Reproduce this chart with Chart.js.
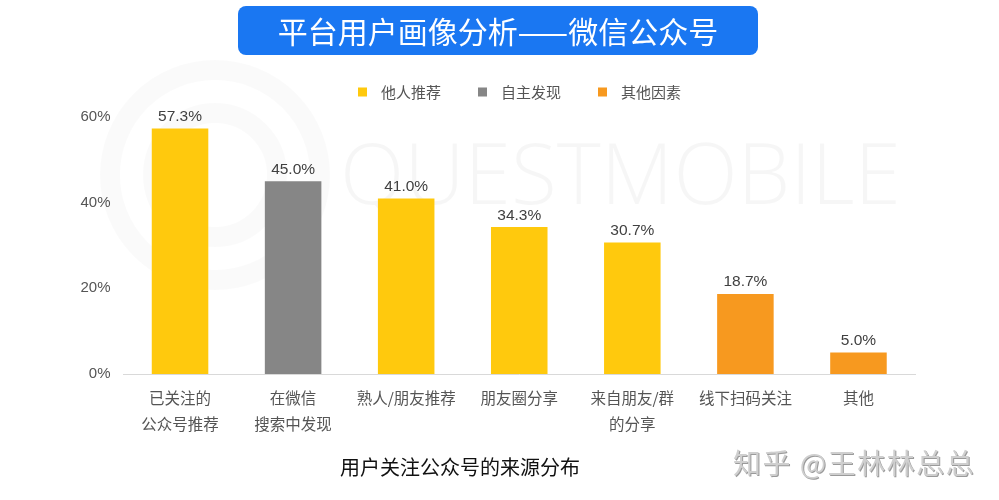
<!DOCTYPE html>
<html>
<head>
<meta charset="utf-8">
<script src="https://cdn.jsdelivr.net/npm/chart.js@4"></script>
<style>
  body { margin: 0; background: #fff; font-family: "Noto Sans CJK SC", "Noto Sans", sans-serif; }
  #wrap { position: relative; width: 999px; height: 500px; overflow: hidden; }
  #chart { position: absolute; left: 0; top: 0; }
  #title { position: absolute; left: 238px; top: 6px; width: 520px; height: 49px; border-radius: 8px;
    background: #1a77f2; color: #fff; font-size: 30px; line-height: 49px; text-align: center; }
  #caption { position: absolute; left: 0; width: 920px; top: 452px; text-align: center; font-size: 20px; color: #111; }
  #mark { position: absolute; left: 733px; top: 442px; font-size: 28px; color: #cfcfcf; text-shadow: 1px 1px 0 #9a9a9a; letter-spacing: 1.5px; }
</style>
</head>
<body>
<div id="wrap">
  <canvas id="chart" width="999" height="500"></canvas>
  <div id="title">平台用户画像分析——微信公众号</div>
  <div id="caption">用户关注公众号的来源分布</div>
  <div id="mark">知乎 @王林林总总</div>
</div>
<script>
// categories and values
var categories = [["已关注的", "公众号推荐"], ["在微信", "搜索中发现"], "熟人/朋友推荐", "朋友圈分享", ["来自朋友/群", "的分享"], "线下扫码关注", "其他"];
var values = [57.3, 45.0, 41.0, 34.3, 30.7, 18.7, 5.0];
var groups = [0, 1, 0, 0, 0, 2, 2];
var groupNames = ["他人推荐", "自主发现", "其他因素"];
var groupColors = ["#ffc90d", "#868686", "#f7991f"];
var yTicks = [0, 20, 40, 60];

// faint QuestMobile watermark behind the bars
var watermark = {
    id: "watermark",
    beforeDatasetsDraw(chart) {
        var ctx = chart.ctx;
        ctx.save();
        ctx.strokeStyle = "rgba(0,0,0,0.02)";
        ctx.lineWidth = 20;
        ctx.beginPath(); ctx.arc(215, 175, 105, 0, Math.PI * 2); ctx.stroke();
        ctx.beginPath(); ctx.arc(215, 175, 62, 0, Math.PI * 2); ctx.stroke();
        ctx.fillStyle = "rgba(0,0,0,0.035)";
        ctx.font = "300 84px 'Open Sans'";
        ctx.textBaseline = "middle";
        ctx.fillText("QUESTMOBILE", 340, 180);
        ctx.restore();
    }
};

// legend row: one square and name for each colour group
var groupLegend = {
    id: "groupLegend",
    afterDraw(chart) {
        var ctx = chart.ctx;
        ctx.save();
        ctx.font = "15px 'Noto Sans CJK SC'";
        ctx.textBaseline = "middle";
        var x = 358, y = 92;
        groupNames.forEach(function (n, i) {
            ctx.fillStyle = groupColors[i];
            ctx.fillRect(x, y - 4.5, 9, 9);
            ctx.fillStyle = "#555";
            ctx.fillText(n, x + 23, y);
            x += 23 + ctx.measureText(n).width + 37;
        });
        ctx.restore();
    }
};

// value labels over every bar
var barLabels = {
    id: "barLabels",
    afterDatasetsDraw(chart) {
        var ctx = chart.ctx;
        ctx.save();
        ctx.font = "15.5px 'Liberation Sans', Arial";
        ctx.fillStyle = "#404040";
        ctx.textAlign = "center";
        ctx.textBaseline = "bottom";
        chart.getDatasetMeta(0).data.forEach(function (bar, i) {
            ctx.fillText(values[i].toFixed(1) + "%", bar.x, bar.y - 4);
        });
        ctx.restore();
    }
};

new Chart(document.getElementById("chart"), {
    type: "bar",
    data: {
        labels: categories,
        datasets: [{
            data: values,
            backgroundColor: values.map(function (v, i) { return groupColors[groups[i]]; }),
            categoryPercentage: 1,
            barPercentage: 0.5
        }]
    },
    options: {
        responsive: false,
        animation: false,
        layout: { padding: { top: 117, right: 84, left: 0, bottom: 0 } },
        plugins: {
            tooltip: { enabled: false },
            legend: { display: false }
        },
        scales: {
            x: {
                grid: { display: false },
                border: { color: "#d9d9d9", width: 1 },
                ticks: { color: "#555", font: { size: 15.5, family: "'Noto Sans CJK SC'", lineHeight: 1.68 }, padding: 3, maxRotation: 0, autoSkip: false },
                afterFit: function (scale) { scale.height = 126; }
            },
            y: {
                min: 0,
                max: 60,
                grid: { display: false },
                border: { display: false },
                afterBuildTicks: function (scale) { scale.ticks = yTicks.map(function (v) { return { value: v }; }); },
                ticks: {
                    color: "#555",
                    font: { size: 15, family: "'Liberation Sans', Arial" },
                    padding: 5,
                    callback: function (v) { return v + "%"; }
                },
                afterFit: function (scale) { scale.width = 123.5; }
            }
        }
    },
    plugins: [watermark, barLabels, groupLegend]
});
</script>
</body>
</html>
